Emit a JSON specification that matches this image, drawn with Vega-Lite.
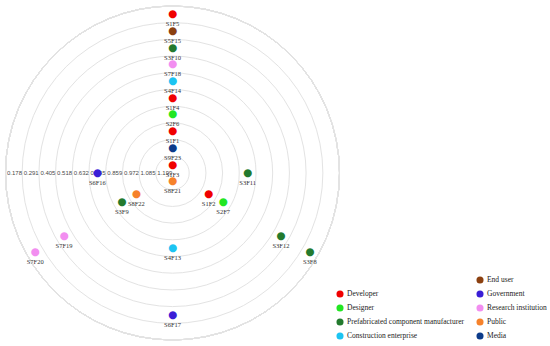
{
  "$schema": "https://vega.github.io/schema/vega-lite/v6.json",
  "width": 345,
  "height": 346,
  "padding": 0,
  "autosize": {"type": "pad"},
  "background": "white",
  "config": {
    "view": {"stroke": null},
    "legend": {
      "orient": "none",
      "title": null,
      "symbolType": "circle",
      "symbolSize": 50,
      "symbolStrokeWidth": 0,
      "labelFont": "Liberation Serif",
      "labelFontSize": 7.5,
      "labelColor": "#222222",
      "labelOffset": 3,
      "rowPadding": 6,
      "padding": 0
    }
  },
  "datasets": {
    "rings": [
      {"v": 0.178}, {"v": 0.291}, {"v": 0.405}, {"v": 0.518}, {"v": 0.632},
      {"v": 0.745}, {"v": 0.859}, {"v": 0.972}, {"v": 1.085}, {"v": 1.199}
    ],
    "points": [
      {"id": "S1F5", "group": "Developer", "angle": 0, "value": 0.235},
      {"id": "S5F15", "group": "End user", "angle": 0, "value": 0.348},
      {"id": "S3F10", "group": "Prefabricated component manufacturer", "angle": 0, "value": 0.462},
      {"id": "S7F18", "group": "Research institution", "angle": 0, "value": 0.575},
      {"id": "S4F14", "group": "Construction enterprise", "angle": 0, "value": 0.688},
      {"id": "S1F4", "group": "Developer", "angle": 0, "value": 0.802},
      {"id": "S2F6", "group": "Designer", "angle": 0, "value": 0.915},
      {"id": "S1F1", "group": "Developer", "angle": 0, "value": 1.029},
      {"id": "S9F23", "group": "Media", "angle": 0, "value": 1.142},
      {"id": "S1F3", "group": "Developer", "angle": 0, "value": 1.256},
      {"id": "S8F21", "group": "Public", "angle": 180, "value": 1.256},
      {"id": "S4F13", "group": "Construction enterprise", "angle": 180, "value": 0.802},
      {"id": "S6F17", "group": "Government", "angle": 180, "value": 0.348},
      {"id": "S6F16", "group": "Government", "angle": 270, "value": 0.802},
      {"id": "S3F11", "group": "Prefabricated component manufacturer", "angle": 90, "value": 0.802},
      {"id": "S8F22", "group": "Public", "angle": 240, "value": 1.029},
      {"id": "S3F9", "group": "Prefabricated component manufacturer", "angle": 240, "value": 0.915},
      {"id": "S7F19", "group": "Research institution", "angle": 240, "value": 0.462},
      {"id": "S7F20", "group": "Research institution", "angle": 240, "value": 0.235},
      {"id": "S1F2", "group": "Developer", "angle": 120, "value": 1.029},
      {"id": "S2F7", "group": "Designer", "angle": 120, "value": 0.915},
      {"id": "S3F12", "group": "Prefabricated component manufacturer", "angle": 120, "value": 0.462},
      {"id": "S3F8", "group": "Prefabricated component manufacturer", "angle": 120, "value": 0.235}
    ]
  },
  "layer": [
    {
      "data": {"name": "rings"},
      "mark": {"type": "arc", "filled": false, "fill": null, "stroke": "#e3e3e3", "strokeWidth": 1},
      "encoding": {
        "radius": {"field": "v", "type": "quantitative", "stack": null, "scale": {"type": "linear", "domain": [0.178, 1.3124], "range": [167, 0], "zero": false}}
      }
    },
    {
      "data": {"name": "rings"},
      "mark": {"type": "text", "align": "left", "baseline": "middle", "dx": 1.5, "fontSize": 6, "font": "Liberation Sans", "color": "#4a4a4a"},
      "encoding": {
        "theta": {"datum": 270, "type": "quantitative", "scale": {"domain": [0, 360], "range": [0, 6.283185307]}},
        "radius": {"field": "v", "type": "quantitative", "stack": null},
        "text": {"field": "v", "type": "quantitative", "format": ".3f"}
      }
    },
    {
      "data": {"name": "points"},
      "transform": [{"filter": {"field": "group", "oneOf": ["Developer", "Designer", "Prefabricated component manufacturer", "Construction enterprise"]}}],
      "mark": {"type": "text", "text": "●", "font": "DejaVu Sans", "fontSize": 10.5, "align": "center", "baseline": "middle"},
      "encoding": {
        "theta": {"field": "angle", "type": "quantitative", "stack": null, "scale": {"domain": [0, 360], "range": [0, 6.283185307]}},
        "radius": {"field": "value", "type": "quantitative", "stack": null},
        "color": {
          "field": "group", "type": "nominal",
          "scale": {"domain": ["Developer", "Designer", "Prefabricated component manufacturer", "Construction enterprise"], "range": ["#f00000", "#22e622", "#237a2e", "#1cc4f2"]},
          "legend": {"legendX": 336, "legendY": 290}
        }
      }
    },
    {
      "data": {"name": "points"},
      "transform": [{"filter": {"field": "group", "oneOf": ["End user", "Government", "Research institution", "Public", "Media"]}}],
      "mark": {"type": "text", "text": "●", "font": "DejaVu Sans", "fontSize": 10.5, "align": "center", "baseline": "middle"},
      "encoding": {
        "theta": {"field": "angle", "type": "quantitative", "stack": null, "scale": {"domain": [0, 360], "range": [0, 6.283185307]}},
        "radius": {"field": "value", "type": "quantitative", "stack": null},
        "color": {
          "field": "group", "type": "nominal",
          "scale": {"domain": ["End user", "Government", "Research institution", "Public", "Media"], "range": ["#8b4010", "#3a1ed6", "#f28ef0", "#f6822b", "#0c3b8a"]},
          "legend": {"legendX": 476, "legendY": 276}
        }
      }
    },
    {
      "data": {"name": "points"},
      "mark": {"type": "text", "align": "center", "baseline": "middle", "dy": 10, "fontSize": 6.5, "font": "Liberation Sans Narrow", "color": "#333333"},
      "encoding": {
        "theta": {"field": "angle", "type": "quantitative", "stack": null, "scale": {"domain": [0, 360], "range": [0, 6.283185307]}},
        "radius": {"field": "value", "type": "quantitative", "stack": null},
        "text": {"field": "id", "type": "nominal"}
      }
    }
  ],
  "resolve": {"scale": {"color": "independent"}, "legend": {"color": "independent"}}
}
